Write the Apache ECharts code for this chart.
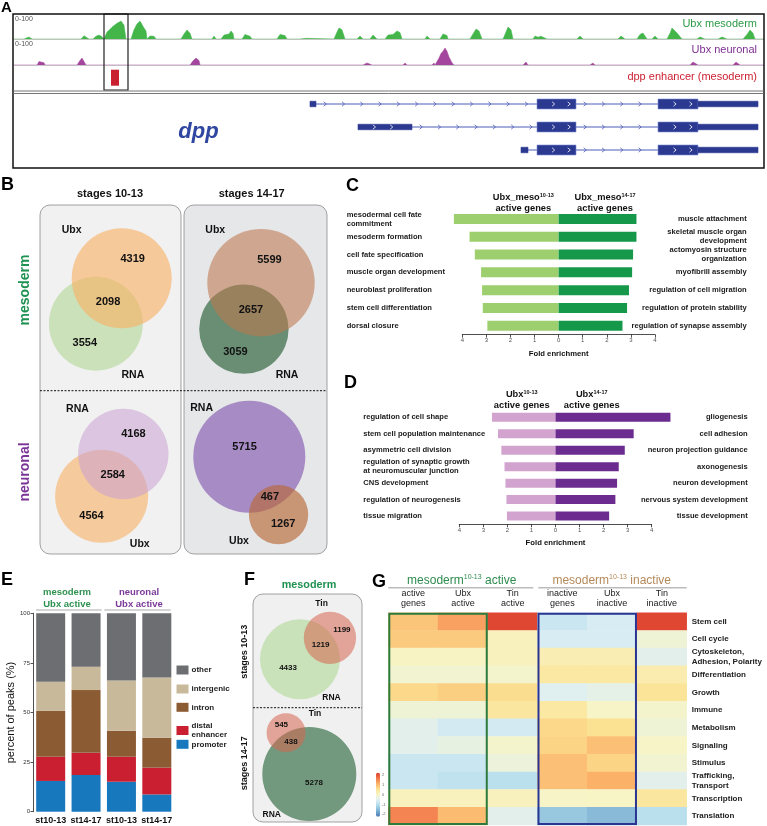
<!DOCTYPE html>
<html>
<head>
<meta charset="utf-8">
<script src="https://cdn.jsdelivr.net/npm/echarts@6/dist/echarts.min.js"></script>
<style>
html,body{margin:0;padding:0;background:#ffffff;}
#chart{width:767px;height:826px;}
</style>
</head>
<body>
<div id="chart"></div>
<script>
// ================= DATA =================
// Panel A: ChIP signal along the dpp locus, [position (kb), signal 0-100]
const ubxMesodermSignal = [
 [0,0],[1.0,0],[1.2,7],[1.5,9],[1.8,0],
 [6.7,0],[7.0,14],[7.2,17],[7.5,0],
 [7.9,0],[8.2,12],[8.5,17],[8.8,10],[9.0,0],
 [9.1,0],[9.3,30],[9.6,42],[9.9,55],[10.1,50],[10.3,68],[10.5,62],[10.7,78],[10.9,70],[11.0,60],[11.2,0],
 [11.7,0],[12.0,40],[12.3,65],[12.6,78],[12.8,70],[13.0,48],[13.2,35],[13.3,0],
 [13.4,0],[13.6,13],[13.8,8],[14.0,12],[14.2,0],
 [15.2,0],[15.3,4],[15.4,0],
 [16.7,0],[17.0,22],[17.3,39],[17.6,25],[17.8,0],
 [19.8,0],[20.0,13],[20.2,0],
 [20.7,0],[21.0,17],[21.2,10],[21.5,22],[21.7,35],[21.9,24],[22.0,0],
 [22.8,0],[23.1,20],[23.3,26],[23.6,12],[23.8,0],
 [26.3,0],[26.6,20],[26.8,26],[27.1,15],[27.3,0],
 [28.6,0],[28.8,4],[29.2,3],[29.4,0],
 [32.0,0],[32.3,30],[32.5,48],[32.8,40],[33.1,0],
 [34.3,0],[34.6,13],[34.9,0],
 [35.6,0],[35.9,17],[36.3,0],
 [37.1,0],[37.4,17],[37.6,10],[37.9,20],[38.3,35],[38.6,28],[38.8,0],
 [41.1,0],[41.3,13],[41.6,0],
 [42.6,0],[42.9,22],[43.3,15],[43.4,0],
 [45.6,0],[45.9,22],[46.2,43],[46.5,35],[46.8,0],
 [48.9,0],[49.2,30],[49.4,52],[49.7,40],[49.9,0],
 [51.9,0],[52.1,13],[52.4,8],[52.7,12],[53.3,0],
 [56.3,0],[56.6,13],[56.9,0],
 [60.4,0],[60.7,13],[61.1,0],
 [62.3,0],[62.6,20],[62.9,26],[63.3,0],
 [63.8,0],[64.1,13],[64.4,0],
 [65.3,0],[65.6,25],[65.8,48],[66.0,40],[66.3,26],[66.5,18],[66.8,0],
 [68.3,0],[68.6,9],[69.1,0],
 [70.4,0],[70.8,9],[71.3,0],
 [72.9,0],[73.3,20],[73.6,39],[73.9,25],[74.1,0],
 [75,0]
];
const ubxNeuronalSignal = [
 [0,0],[2.3,0],[2.5,15],[2.7,22],[3.0,10],[3.1,0],
 [6.3,0],[6.6,20],[6.8,30],[7.0,25],[7.2,0],
 [16.8,0],[17.0,4],[17.1,0],
 [17.6,0],[17.9,18],[18.2,30],[18.5,20],[18.6,0],
 [21.8,0],[22.0,4],[22.3,0],
 [34.9,0],[35.3,9],[35.8,0],
 [38.9,0],[39.1,9],[39.3,0],
 [41.8,0],[42.0,9],[42.1,0],
 [42.3,0],[42.5,30],[42.7,50],[42.9,60],[43.1,74],[43.3,60],[43.5,35],[43.8,10],[44.0,0],
 [44.8,0],[45.0,6],[45.1,0],
 [50.9,0],[51.2,13],[51.4,0],
 [57.6,0],[57.9,9],[58.1,0],
 [67.6,0],[67.9,13],[68.4,0],
 [71.9,0],[72.2,13],[72.6,0],
 [75,0]
];
const enhancerRegion = [[9.7, 10.5]];
const highlightRegion = [[9.0, 11.4]];
const transcriptNames = ['dpp-RA', 'dpp-RB', 'dpp-RC'];
// [transcript, start kb, end kb, feature]
const transcriptFeatures = [
 [0,29.6,30.2,'utr5'],[0,30.2,52.3,'intron'],[0,52.3,56.2,'cds'],[0,56.2,64.4,'intron'],[0,64.4,68.4,'cds'],[0,68.4,74.4,'utr3'],
 [1,34.4,39.8,'utr5'],[1,39.8,52.3,'intron'],[1,52.3,56.2,'cds'],[1,56.2,64.4,'intron'],[1,64.4,68.4,'cds'],[1,68.4,74.4,'utr3'],
 [2,50.7,51.4,'utr5'],[2,51.4,52.3,'intron'],[2,52.3,56.2,'cds'],[2,56.2,64.4,'intron'],[2,64.4,68.4,'cds'],[2,68.4,74.4,'utr3']
];

// Panel B: Venn counts (mesoderm 10-13, mesoderm 14-17, neuronal 10-13, neuronal 14-17)
const vennBSetA = ['Ubx', 'Ubx', 'RNA', 'RNA'];
const vennBSetB = ['RNA', 'RNA', 'Ubx', 'Ubx'];
const vennBOnlyA = [4319, 5599, 4168, 5715];
const vennBBoth  = [2098, 2657, 2584, 467];
const vennBOnlyB = [3554, 3059, 4564, 1267];

// Panel C: GO fold enrichment (mesoderm)
const goCLeftTerms = ['mesodermal cell fate\ncommitment','mesoderm formation','cell fate specification','muscle organ development','neuroblast proliferation','stem cell differentiation','dorsal closure'];
const goCLeftFold = [4.35, 3.7, 3.48, 3.22, 3.18, 3.15, 2.96];
const goCRightTerms = ['muscle attachment','skeletal muscle organ\ndevelopment','actomyosin structure\norganization','myofibrill assembly','regulation of cell migration','regulation of protein stability','regulation of synapse assembly'];
const goCRightFold = [3.23, 3.23, 3.09, 3.05, 2.92, 2.84, 2.65];

// Panel D: GO fold enrichment (neuronal)
const goDLeftTerms = ['regulation of cell shape','stem cell population maintenance','asymmetric cell division','regulation of synaptic growth\nat neuromuscular junction','CNS development','regulation of neurogenesis','tissue migration'];
const goDLeftFold = [2.64, 2.39, 2.25, 2.12, 2.08, 2.04, 2.02];
const goDRightTerms = ['gliogenesis','cell adhesion','neuron projection guidance','axonogenesis','neuron development','nervous system development','tissue development'];
const goDRightFold = [4.78, 3.25, 2.88, 2.63, 2.56, 2.49, 2.23];
const foldTicks = [-4, -3, -2, -1, 0, 1, 2, 3, 4];

// Panel E: percent of peaks
const eCategories = ['mesoderm st10-13', 'mesoderm st14-17', 'neuronal st10-13', 'neuronal st14-17'];
const ePromoter   = [15.5, 18.5, 15.1, 8.7];
const eDistal     = [12.2, 11.2, 12.6, 13.5];
const eIntron     = [23.1, 31.6, 13.1, 15.1];
const eIntergenic = [14.7, 11.8, 25.3, 30.3];
const eOther      = [34.5, 26.9, 33.9, 32.4];
const eYTicks = [0, 25, 50, 75, 100];

// Panel F: Tin / RNA Venn (stages 10-13, 14-17)
const vennFSetA = ['RNA', 'RNA'];
const vennFSetB = ['Tin', 'Tin'];
const vennFOnlyA = [4433, 5278];
const vennFBoth  = [1219, 438];
const vennFOnlyB = [1199, 545];

// Panel G: heatmap (z-score)
const gColumns = ['active\ngenes','Ubx\nactive','Tin\nactive','inactive\ngenes','Ubx\ninactive','Tin\ninactive'];
const gRows = ['Stem cell','Cell cycle','Cytoskeleton,\nAdhesion, Polarity','Differentiation','Growth','Immune','Metabolism','Signaling','Stimulus','Trafficking,\nTransport','Transcription','Translation'];
const gValues = [
 [0.8, 1.15, 1.9, -0.7, -0.55, 1.9],
 [0.75, 0.75, 0.1, -0.55, -0.55, -0.15],
 [0.05, 0.05, 0.1, 0.2, 0.2, -0.4],
 [-0.1, -0.1, -0.05, 0.35, 0.35, 0.25],
 [0.6, 0.7, 0.55, -0.45, -0.35, 0.45],
 [-0.15, -0.15, 0.4, 0.35, 0.0, -0.05],
 [-0.4, -0.6, -0.6, 0.6, 0.5, -0.15],
 [-0.4, -0.3, -0.05, 0.65, 0.85, 0.0],
 [-0.7, -0.7, -0.2, 0.85, 0.65, -0.1],
 [-0.7, -0.8, -0.85, 0.85, 1.0, -0.4],
 [0.1, 0.1, 0.1, 0.0, 0.02, 0.4],
 [1.4, 0.9, -0.4, -1.2, -1.35, -0.85]
];
const gFrames = [[0, 1], [3, 4]];
const gScaleTicks = ['2', '1', '0', '-1', '-2'];

// ================= CHART =================
const FONT = "'Liberation Sans', Arial, Helvetica, sans-serif";
const chart = echarts.init(document.getElementById('chart'), null, {renderer: 'canvas', width: 767, height: 826});

function lensArea(r1, r2, d) {
  if (d >= r1 + r2) return 0;
  if (d <= Math.abs(r1 - r2)) return Math.PI * Math.min(r1, r2) ** 2;
  const a = r1 * r1 * Math.acos((d * d + r1 * r1 - r2 * r2) / (2 * d * r1));
  const b = r2 * r2 * Math.acos((d * d + r2 * r2 - r1 * r1) / (2 * d * r2));
  const c = 0.5 * Math.sqrt((-d + r1 + r2) * (d + r1 - r2) * (d - r1 + r2) * (d + r1 + r2));
  return a + b - c;
}
function centerDistance(r1, r2, area) {
  let lo = Math.abs(r1 - r2), hi = r1 + r2;
  for (let i = 0; i < 60; i++) {
    const mid = (lo + hi) / 2;
    if (lensArea(r1, r2, mid) > area) lo = mid; else hi = mid;
  }
  return (lo + hi) / 2;
}
function textEl(x, y, text, font, fill, align, vAlign, extra) {
  return Object.assign({type: 'text', x: x, y: y, z: 50, silent: true,
    style: {text: text, font: font, fill: fill, align: align || 'left', verticalAlign: vAlign || 'middle',
      textAlign: align || 'left', textVerticalAlign: vAlign || 'middle'}}, extra || {});
}

// Venn layouts (grid units = px inside the panel box)
const vennBLayout = [
  {ax: 81.7, ay: 73.3, angle: 119.6, k: 0.6242, colA: 'rgba(248,176,100,0.62)', colB: 'rgba(165,210,130,0.5)', bFirst: true, labA: [-136, 19.5], labB: [54, 16]},
  {ax: 221, ay: 77.7, angle: 110.2, k: 0.591, colA: 'rgba(190,120,80,0.58)', colB: 'rgba(45,100,60,0.68)', bFirst: true, labA: [-131, 16], labB: [46.5, 18]},
  {ax: 83.3, ay: 249, angle: 117.2, k: 0.55, colA: 'rgba(200,160,210,0.55)', colB: 'rgba(248,176,100,0.6)', bFirst: true, labA: [-135.6, 19], labB: [51.7, 15]},
  {ax: 209.3, ay: 251.7, angle: 63.2, k: 0.7124, colA: 'rgba(140,100,180,0.7)', colB: 'rgba(185,105,55,0.65)', bFirst: false, labA: [-134.5, 12], labB: [146, 18]}
];
const vennFLayout = [
  {ax: 47, ay: 65.3, angle: -35.6, k: 0.532, colA: 'rgba(170,215,140,0.55)', colB: 'rgba(215,100,80,0.55)', bFirst: false, labA: [51, 10], labB: [-104, 8.6]},
  {ax: 56.3, ay: 180, angle: -119.4, k: 0.6217, colA: 'rgba(60,115,75,0.7)', colB: 'rgba(215,100,80,0.55)', bFirst: false, labA: [132.5, 8.6], labB: [-33, 15]}
];

function vennRenderer(layout, setA, setB, onlyA, both, onlyB, countFont, setFont) {
  return function (params, api) {
    const i = params.dataIndex, L = layout[i];
    const rA = L.k * Math.sqrt(onlyA[i] + both[i]);
    const rB = L.k * Math.sqrt(onlyB[i] + both[i]);
    const d = centerDistance(rA, rB, Math.PI * L.k * L.k * both[i]);
    const th = L.angle * Math.PI / 180, ux = Math.cos(th), uy = Math.sin(th);
    const at = t => api.coord([L.ax + t * ux, L.ay + t * uy]);
    const px = api.size([1, 1])[0];
    const cA = [L.ax, L.ay], cB = [L.ax + d * ux, L.ay + d * uy];
    const pA = api.coord(cA), pB = api.coord(cB);
    const circA = {type: 'circle', shape: {cx: pA[0], cy: pA[1], r: rA * px}, style: {fill: L.colA}};
    const circB = {type: 'circle', shape: {cx: pB[0], cy: pB[1], r: rB * px}, style: {fill: L.colB}};
    const t = (p, text, font) => ({type: 'text', x: p[0], y: p[1], z2: 10,
      style: {text: String(text), font: font, fill: '#111', align: 'center', verticalAlign: 'middle', textAlign: 'center', textVerticalAlign: 'middle'}});
    const setPos = (c, r, lab) => {
      const a = lab[0] * Math.PI / 180;
      return api.coord([c[0] + (r + lab[1]) * Math.cos(a), c[1] + (r + lab[1]) * Math.sin(a)]);
    };
    const children = L.bFirst ? [circB, circA] : [circA, circB];
    children.push(t(at((d - rB + rA) / 2), both[i], countFont));
    children.push(t(at((-rA + d - rB) / 2), onlyA[i], countFont));
    children.push(t(at((rA + d + rB) / 2), onlyB[i], countFont));
    children.push(t(setPos(cA, rA, L.labA), setA[i], setFont));
    children.push(t(setPos(cB, rB, L.labB), setB[i], setFont));
    return {type: 'group', children: children};
  };
}

function renderGene(params, api) {
  const f = transcriptFeatures[params.dataIndex];
  const p0 = api.coord([f[1], f[0]]), p1 = api.coord([f[2], f[0]]);
  const yc = p0[1], x0 = p0[0], x1 = p1[0], kind = f[3];
  const blue = '#2b3990';
  const chev = (cx, col) => ({type: 'polyline', shape: {points: [[cx - 1.3, yc - 2.2], [cx + 1.3, yc], [cx - 1.3, yc + 2.2]]}, style: {stroke: col, lineWidth: 0.8, fill: null}});
  const children = [];
  if (kind === 'intron') {
    children.push({type: 'line', shape: {x1: x0, y1: yc, x2: x1, y2: yc}, style: {stroke: '#4d5cb8', lineWidth: 1}});
    for (let cx = x0 + 9; cx < x1 - 4; cx += 18.3) children.push(chev(cx, '#4d5cb8'));
  } else {
    const h = kind === 'cds' ? 10 : 5.5;
    children.push({type: 'rect', shape: {x: x0, y: yc - h / 2, width: x1 - x0, height: h},
      style: {fill: blue, stroke: kind === 'cds' ? '#7f8fd6' : blue, lineWidth: 0.6}});
    const w = x1 - x0;
    if (kind === 'cds') children.push(chev(x0 + w * 0.42, '#ffffff'), chev(x0 + w * 0.82, '#ffffff'));
    if (kind === 'utr5' && w > 20) children.push(chev(x0 + w * 0.3, '#ffffff'), chev(x0 + w * 0.62, '#ffffff'));
  }
  return {type: 'group', children: children};
}

const hiddenVal = (gi, min, max, extra) => Object.assign({type: 'value', gridIndex: gi, min: min, max: max, show: false}, extra || {});
const trackX = gi => ({type: 'value', gridIndex: gi, min: 0, max: 75,
  axisLine: {show: true, onZero: false, lineStyle: {color: '#c6c6c6', width: 1}},
  axisTick: {show: false}, axisLabel: {show: false}, splitLine: {show: false}});
const foldX = (gi) => ({type: 'value', gridIndex: gi, min: foldTicks[0], max: foldTicks[foldTicks.length - 1], interval: 1,
  axisLine: {show: true, onZero: false, lineStyle: {color: '#222', width: 0.8}},
  axisTick: {show: true, length: 3, lineStyle: {color: '#222', width: 0.8}},
  axisLabel: {fontSize: 6, color: '#555', margin: 3, formatter: v => String(Math.abs(v))},
  splitLine: {show: false},
  name: 'Fold enrichment', nameLocation: 'middle', nameGap: 15,
  nameTextStyle: {fontSize: 7.7, fontWeight: 'bold', color: '#111', fontFamily: FONT}});
const termY = (gi, data, pos, align, margin) => ({type: 'category', gridIndex: gi, data: data, inverse: true, position: pos,
  axisLine: {show: false}, axisTick: {show: false},
  axisLabel: {interval: 0, align: align, margin: margin, fontSize: 7.6, fontWeight: 'bold', color: '#1a1a1a', lineHeight: 9, fontFamily: FONT}});

const grids = [
  {left: 14, top: 16, width: 750, height: 23},          // 0 A green
  {left: 14, top: 42, width: 750, height: 23},          // 1 A purple
  {left: 14, top: 14, width: 750, height: 76},          // 2 A highlight
  {left: 14, top: 69.7, width: 750, height: 16},        // 3 A enhancer
  {left: 14, top: 92.5, width: 750, height: 69},        // 4 A genes
  {left: 40, top: 205, width: 287, height: 350},        // 5 B venn
  {left: 462.3, top: 210.1, width: 192.7, height: 124.5}, // 6 C
  {left: 459.3, top: 409.1, width: 192.4, height: 115.2}, // 7 D
  {left: 33, top: 613.3, width: 141.5, height: 198.4},  // 8 E
  {left: 253, top: 594, width: 109, height: 228},       // 9 F venn
  {left: 388.3, top: 612.7, width: 298.4, height: 212.3} // 10 G
];

const xAxes = [
  trackX(0), trackX(1), hiddenVal(2, 0, 75), hiddenVal(3, 0, 75), hiddenVal(4, 0, 75),
  hiddenVal(5, 0, 287),
  foldX(6), foldX(7),
  {type: 'category', gridIndex: 8, data: eCategories, axisLine: {show: false}, axisTick: {show: false},
   axisLabel: {interval: 0, margin: 4, fontSize: 9, fontWeight: 'bold', color: '#111', fontFamily: FONT, formatter: v => v.split(' ')[1]}},
  hiddenVal(9, 0, 109),
  {type: 'category', gridIndex: 10, data: gColumns, position: 'top', axisLine: {show: false}, axisTick: {show: false},
   axisLabel: {interval: 0, margin: 4, fontSize: 9, color: '#222', lineHeight: 10, fontFamily: FONT}}
];
const yAxes = [
  hiddenVal(0, 0, 100), hiddenVal(1, 0, 100), hiddenVal(2, 0, 1), hiddenVal(3, 0, 1),
  {type: 'category', gridIndex: 4, data: transcriptNames, inverse: true, show: false},
  hiddenVal(5, 0, 350, {inverse: true}),
  termY(6, goCLeftTerms, 'left', 'left', 115.6),
  termY(6, goCRightTerms, 'right', 'right', 91.7),
  termY(7, goDLeftTerms, 'left', 'left', 96),
  termY(7, goDRightTerms, 'right', 'right', 96),
  {type: 'value', gridIndex: 8, min: eYTicks[0], max: eYTicks[eYTicks.length - 1], interval: 25,
   axisLine: {show: true, lineStyle: {color: '#222', width: 0.8}}, axisTick: {show: true, length: 2.5, lineStyle: {color: '#222', width: 0.8}},
   axisLabel: {fontSize: 6, color: '#333', margin: 3}, splitLine: {show: false},
   name: 'percent of peaks (%)', nameLocation: 'middle', nameGap: 15, nameRotate: 90,
   nameTextStyle: {fontSize: 11, color: '#111', fontFamily: FONT}},
  hiddenVal(9, 0, 228, {inverse: true}),
  {type: 'category', gridIndex: 10, data: gRows, inverse: true, position: 'right', axisLine: {show: false}, axisTick: {show: false},
   axisLabel: {interval: 0, margin: 5, fontSize: 8, fontWeight: 'bold', color: '#222', lineHeight: 9.5, fontFamily: FONT}}
];

const heatData = [];
gValues.forEach((row, r) => row.forEach((v, c) => heatData.push([c, r, v])));

const eColors = {promoter: '#1878be', 'distal enhancer': '#c91f31', intron: '#8b5b33', intergenic: '#c9b99b', other: '#6d6e71'};
const eSeries = [['promoter', ePromoter], ['distal enhancer', eDistal], ['intron', eIntron], ['intergenic', eIntergenic], ['other', eOther]]
  .map(([name, data]) => ({type: 'bar', name: name, xAxisIndex: 8, yAxisIndex: 10, stack: 'peaks', data: data, barWidth: 29,
    itemStyle: {color: eColors[name]}, silent: true}));

const series = [
  {type: 'line', xAxisIndex: 0, yAxisIndex: 0, data: ubxMesodermSignal, symbol: 'none', silent: true,
   lineStyle: {color: '#3fb44a', width: 0.5}, areaStyle: {color: '#44b549', opacity: 1}},
  {type: 'line', xAxisIndex: 1, yAxisIndex: 1, data: ubxNeuronalSignal, symbol: 'none', silent: true,
   lineStyle: {color: '#a4469d', width: 0.5}, areaStyle: {color: '#a4469d', opacity: 1}},
  {type: 'custom', xAxisIndex: 2, yAxisIndex: 2, data: highlightRegion, clip: false, silent: true, z: 5,
   renderItem: (params, api) => {
     const x0 = api.coord([api.value(0), 0])[0], x1 = api.coord([api.value(1), 0])[0];
     const cs = params.coordSys;
     return {type: 'rect', shape: {x: x0, y: cs.y, width: x1 - x0, height: cs.height}, style: {fill: null, stroke: '#222', lineWidth: 1.2}};
   }},
  {type: 'custom', xAxisIndex: 3, yAxisIndex: 3, data: enhancerRegion, clip: false, silent: true,
   renderItem: (params, api) => {
     const x0 = api.coord([api.value(0), 0])[0], x1 = api.coord([api.value(1), 0])[0];
     const cs = params.coordSys;
     return {type: 'rect', shape: {x: x0, y: cs.y, width: x1 - x0, height: cs.height}, style: {fill: '#c8202f'}};
   }},
  {type: 'custom', xAxisIndex: 4, yAxisIndex: 4, data: transcriptFeatures.map(f => [f[1], f[0]]), clip: false, silent: true,
   renderItem: renderGene},
  {type: 'custom', xAxisIndex: 5, yAxisIndex: 5, data: vennBBoth.map((_, i) => [i, i]), clip: false, silent: true,
   renderItem: vennRenderer(vennBLayout, vennBSetA, vennBSetB, vennBOnlyA, vennBBoth, vennBOnlyB, 'bold 11px ' + FONT, 'bold 10.5px ' + FONT)},
  {type: 'bar', xAxisIndex: 6, yAxisIndex: 6, stack: 'c', data: goCLeftFold.map(v => -v), barWidth: 10, clip: false, silent: true, itemStyle: {color: '#9dcf6f'}},
  {type: 'bar', xAxisIndex: 6, yAxisIndex: 6, stack: 'c', data: goCRightFold, barWidth: 10, clip: false, silent: true, itemStyle: {color: '#15984a'}},
  {type: 'bar', xAxisIndex: 7, yAxisIndex: 8, stack: 'd', data: goDLeftFold.map(v => -v), barWidth: 9, clip: false, silent: true, itemStyle: {color: '#d3a3cf'}},
  {type: 'bar', xAxisIndex: 7, yAxisIndex: 8, stack: 'd', data: goDRightFold, barWidth: 9, clip: false, silent: true, itemStyle: {color: '#6b2b8f'}},
  ...eSeries,
  {type: 'custom', xAxisIndex: 9, yAxisIndex: 11, data: vennFBoth.map((_, i) => [i, i]), clip: false, silent: true,
   renderItem: vennRenderer(vennFLayout, vennFSetA, vennFSetB, vennFOnlyA, vennFBoth, vennFOnlyB, 'bold 8px ' + FONT, 'bold 8.5px ' + FONT)},
  {type: 'heatmap', xAxisIndex: 10, yAxisIndex: 12, data: heatData, silent: true, itemStyle: {borderWidth: 0}},
  {type: 'custom', xAxisIndex: 10, yAxisIndex: 12, data: gFrames, clip: false, silent: true, z: 5,
   renderItem: (params, api) => {
     const c0 = api.value(0), c1 = api.value(1);
     const p0 = api.coord([c0, 0]), p1 = api.coord([c1, gRows.length - 1]);
     const sz = api.size([1, 1]);
     const x = p0[0] - sz[0] / 2, w = p1[0] - p0[0] + sz[0];
     const y = Math.min(p0[1], p1[1]) - sz[1] / 2, h = Math.abs(p1[1] - p0[1]) + sz[1];
     const col = params.dataIndex === 0 ? '#2d7a3c' : '#2a3593';
     return {type: 'rect', shape: {x: x + 1, y: y + 1, width: w - 2, height: h - 2}, style: {fill: null, stroke: col, lineWidth: 2}};
   }}
];
const heatIdx = series.findIndex(s => s.type === 'heatmap');

const legendOrder = ['other', 'intergenic', 'intron', 'distal enhancer', 'promoter'];
const legendTops = [665.5, 684.5, 702.8, 721.5, 739.8];
const legends = legendOrder.map((name, i) => ({
  data: [{name: name, icon: 'rect'}], left: 176.5, top: legendTops[i], padding: 0, itemWidth: 12, itemHeight: 9,
  selectedMode: false, orient: 'vertical',
  formatter: n => n === 'distal enhancer' ? 'distal\nenhancer' : n,
  textStyle: {fontSize: 8, fontWeight: 'bold', color: '#222', lineHeight: 9, fontFamily: FONT, padding: [0, 0, 0, -2]}
}));

const rich9 = {
  b: {fontSize: 9.3, fontWeight: 'bold', fill: '#111', color: '#111', fontFamily: FONT, lineHeight: 10.5},
  s: {fontSize: 5.5, fontWeight: 'bold', fill: '#111', color: '#111', fontFamily: FONT, verticalAlign: 'top', lineHeight: 7}
};
const richG = (col) => ({
  g: {fontSize: 12, fill: col, color: col, fontFamily: FONT, lineHeight: 14},
  s: {fontSize: 7, fill: col, color: col, fontFamily: FONT, verticalAlign: 'top', lineHeight: 8}
});
const richText = (x, y, text, rich) => ({type: 'text', x: x, y: y, z: 50, silent: true,
  style: {text: text, rich: rich, align: 'center', verticalAlign: 'middle', textAlign: 'center', textVerticalAlign: 'middle'}});

const LET = 'bold 18px ' + FONT;
const G = [
  // Panel A
  {type: 'rect', z: 40, silent: true, shape: {x: 13, y: 14, width: 751, height: 154}, style: {fill: null, stroke: '#111', lineWidth: 1.5}},
  {type: 'line', z: 40, silent: true, shape: {x1: 13, y1: 91, x2: 764, y2: 91}, style: {stroke: '#666', lineWidth: 0.9}},
  {type: 'line', z: 40, silent: true, shape: {x1: 13, y1: 93.5, x2: 764, y2: 93.5}, style: {stroke: '#666', lineWidth: 0.9}},
  textEl(1, 8, 'A', 'bold 15px ' + FONT, '#000'),
  textEl(15, 19, '0-100', '7px ' + FONT, '#555'),
  textEl(15, 44.5, '0-100', '7px ' + FONT, '#555'),
  textEl(757, 23.5, 'Ubx mesoderm', '11px ' + FONT, '#2c9a47', 'right'),
  textEl(757, 49.5, 'Ubx neuronal', '11px ' + FONT, '#7d2f92', 'right'),
  textEl(757, 76.5, 'dpp enhancer (mesoderm)', '11px ' + FONT, '#cc2131', 'right'),
  textEl(198.5, 131.5, 'dpp', 'italic bold 22px ' + FONT, '#2f47a0', 'center'),
  // Panel B
  textEl(1, 185, 'B', LET, '#000'),
  {type: 'rect', z: 0, silent: true, shape: {x: 40, y: 205, width: 141, height: 349, r: 10}, style: {fill: '#f1f1f1', stroke: '#8a8a8a', lineWidth: 0.8}},
  {type: 'rect', z: 0, silent: true, shape: {x: 184, y: 205, width: 143, height: 349, r: 10}, style: {fill: '#e6e7e9', stroke: '#8a8a8a', lineWidth: 0.8}},
  {type: 'line', z: 40, silent: true, shape: {x1: 40, y1: 390.7, x2: 327, y2: 390.7}, style: {stroke: '#111', lineWidth: 1, lineDash: [2, 1.5]}},
  textEl(110, 194, 'stages 10-13', 'bold 11px ' + FONT, '#111', 'center'),
  textEl(251.7, 194, 'stages 14-17', 'bold 11px ' + FONT, '#111', 'center'),
  textEl(25, 290, 'mesoderm', 'bold 14px ' + FONT, '#1f9150', 'center', 'middle', {rotation: Math.PI / 2}),
  textEl(25, 472, 'neuronal', 'bold 14px ' + FONT, '#7b3597', 'center', 'middle', {rotation: Math.PI / 2}),
  // Panel C
  textEl(346, 186, 'C', LET, '#000'),
  richText(523.3, 203, '{b|Ubx_meso}{s|10-13}\n{b|active genes}', rich9),
  richText(605, 203, '{b|Ubx_meso}{s|14-17}\n{b|active genes}', rich9),
  // Panel D
  textEl(344, 383, 'D', LET, '#000'),
  richText(521.7, 399.7, '{b|Ubx}{s|10-13}\n{b|active genes}', rich9),
  richText(591.7, 399.7, '{b|Ubx}{s|14-17}\n{b|active genes}', rich9),
  // Panel E
  textEl(1, 580, 'E', LET, '#000'),
  textEl(67, 592, 'mesoderm', 'bold 9.5px ' + FONT, '#2e9150', 'center'),
  textEl(67, 604, 'Ubx active', 'bold 9.5px ' + FONT, '#2e9150', 'center'),
  textEl(139, 592, 'neuronal', 'bold 9.5px ' + FONT, '#7a3a98', 'center'),
  textEl(139, 604, 'Ubx active', 'bold 9.5px ' + FONT, '#7a3a98', 'center'),
  {type: 'line', z: 40, silent: true, shape: {x1: 36, y1: 610, x2: 101.7, y2: 610}, style: {stroke: '#aaa', lineWidth: 1}},
  {type: 'line', z: 40, silent: true, shape: {x1: 104.3, y1: 610, x2: 170.7, y2: 610}, style: {stroke: '#aaa', lineWidth: 1}},
  // Panel F
  textEl(244, 580, 'F', LET, '#000'),
  textEl(309, 585, 'mesoderm', 'bold 10.8px ' + FONT, '#1f9150', 'center'),
  {type: 'rect', z: 0, silent: true, shape: {x: 253, y: 594, width: 109, height: 228, r: 10}, style: {fill: '#f0f0f0', stroke: '#8a8a8a', lineWidth: 0.8}},
  {type: 'line', z: 40, silent: true, shape: {x1: 253, y1: 707.7, x2: 362, y2: 707.7}, style: {stroke: '#111', lineWidth: 1, lineDash: [2, 1.5]}},
  textEl(245, 651.7, 'stages 10-13', 'bold 9px ' + FONT, '#111', 'center', 'middle', {rotation: Math.PI / 2}),
  textEl(245, 763.3, 'stages 14-17', 'bold 9px ' + FONT, '#111', 'center', 'middle', {rotation: Math.PI / 2}),
  // Panel G
  textEl(372, 582, 'G', LET, '#000'),
  richText(461.7, 581, '{g|mesoderm}{s|10-13}{g| active}', richG('#2e8b4e')),
  richText(611.7, 581, '{g|mesoderm}{s|10-13}{g| inactive}', richG('#b5895a')),
  {type: 'line', z: 40, silent: true, shape: {x1: 388.3, y1: 587.7, x2: 533.3, y2: 587.7}, style: {stroke: '#bbb', lineWidth: 1.5}},
  {type: 'line', z: 40, silent: true, shape: {x1: 538.3, y1: 587.7, x2: 686.7, y2: 587.7}, style: {stroke: '#bbb', lineWidth: 1.5}}
];
gScaleTicks.forEach((t, i) => G.push(textEl(382, 775 + i * 9.8, t, '4px ' + FONT, '#666')));

const option = {
  animation: false,
  backgroundColor: '#ffffff',
  textStyle: {fontFamily: FONT},
  grid: grids,
  xAxis: xAxes,
  yAxis: yAxes,
  legend: legends,
  visualMap: [{
    type: 'continuous', seriesIndex: heatIdx, min: -2, max: 2, left: 376, top: 772.7, itemWidth: 4, itemHeight: 44,
    padding: 0, calculable: false, show: true, text: null,
    inRange: {color: ['#4a78b5', '#79aed2', '#addaea', '#ddeef4', '#f7f5c8', '#fbe293', '#fbb268', '#f2784c', '#db3b2c']}
  }],
  series: series,
  graphic: {elements: G}
};
chart.setOption(option);
</script>
</body>
</html>
